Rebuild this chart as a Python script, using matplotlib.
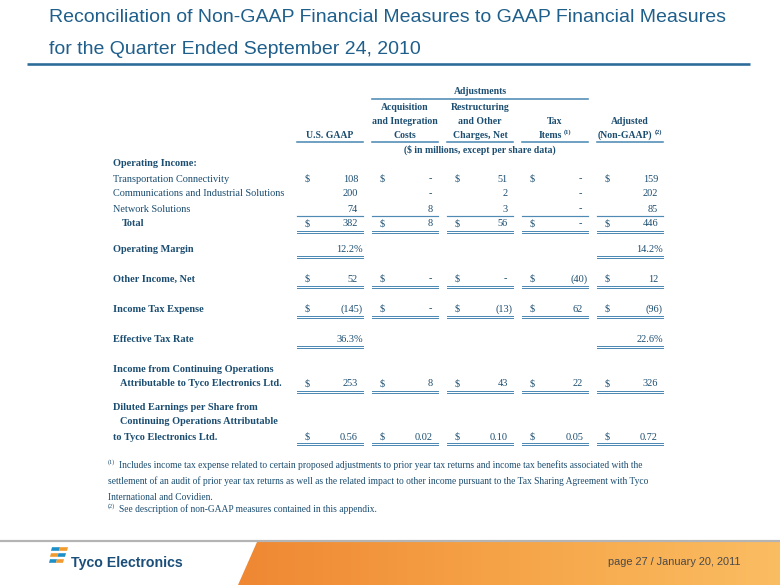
import matplotlib
matplotlib.use("Agg")
import matplotlib.pyplot as plt
from matplotlib.patches import Polygon
import numpy as np

# ---------------- data ----------------
title_lines = ["Reconciliation of Non-GAAP Financial Measures to GAAP Financial Measures",
               "for the Quarter Ended September 24, 2010"]
col_head_1 = ["", "Acquisition", "Restructuring", "", ""]
col_head_2 = ["", "and Integration", "and Other", "Tax", "Adjusted"]
col_head_3 = ["U.S. GAAP", "Costs", "Charges, Net", "Items", "(Non-GAAP)"]
col_head_sup = ["", "", "", "(1)", "(2)"]
units_note = "($ in millions, except per share data)"

segments = ["Transportation Connectivity", "Communications and Industrial Solutions", "Network Solutions"]
seg_us_gaap = [108, 200, 74]
seg_acq = [0, 0, 8]
seg_restr = [51, 2, 3]
seg_tax = [0, 0, 0]
seg_adjusted = [159, 202, 85]
total_op_income = [382, 8, 56, 0, 446]
operating_margin = [12.2, None, None, None, 14.2]
other_income = [52, 0, 0, -40, 12]
income_tax_expense = [-145, 0, -13, 62, -96]
effective_tax_rate = [36.3, None, None, None, 22.6]
income_cont_ops = [253, 8, 43, 22, 326]
diluted_eps = [0.56, 0.02, 0.10, 0.05, 0.72]

footnote1 = ["Includes income tax expense related to certain proposed adjustments to prior year tax returns and income tax benefits associated with the",
             "settlement of an audit of prior year tax returns as well as the related impact to other income pursuant to the Tax Sharing Agreement with Tyco",
             "International and Covidien."]
footnote2 = "See description of non-GAAP measures contained in this appendix."
page_text = "page 27 / January 20, 2011"
logo_text = "Tyco Electronics"

# ---------------- style ----------------
SANS = "Liberation Sans"
SERIF = "Liberation Serif"
TXT = "#1b4d70"
LINE = "#4f8ab5"
TITLE_C = "#1f5f8b"

fig = plt.figure(figsize=(7.8, 5.85), dpi=100)
ax = fig.add_axes([0, 0, 1, 1])
ax.set_xlim(0, 780)
ax.set_ylim(585, 0)
ax.axis("off")
PX = 0.72  # points per pixel

# title
ax.text(49, 17, title_lines[0], family=SANS, fontsize=14.0, color=TITLE_C, va="center", ha="left")
ax.text(49, 49, title_lines[1], family=SANS, fontsize=14.0, color=TITLE_C, va="center", ha="left")
ax.plot([27, 750], [64, 64], color="#2d6b99", lw=2.6 * PX, solid_capstyle="butt")

# columns
dollar_x = [305 + 75 * k for k in range(5)]
right_x = [358 + 75 * k for k in range(5)]
ul_l = [297 + 75 * k for k in range(5)]
ul_r = [363 + 75 * k for k in range(5)]
centers = [(a + b) / 2 for a, b in zip(ul_l, ul_r)]

BODY = 7.4
HEAD = 7.0

fig.canvas.draw()
renderer = fig.canvas.get_renderer()


def text_width_px(s, **kw):
    t = ax.text(0, 0, s, **kw)
    bb = t.get_window_extent(renderer=renderer)
    t.remove()
    return bb.width


# header
ax.text(480, 92, "Adjustments", family=SERIF, weight="bold", fontsize=HEAD, color=TXT, ha="center", va="center")
ax.plot([ul_l[1], ul_r[3]], [99, 99], color=LINE, lw=1.6 * PX)
for k in range(5):
    if col_head_1[k]:
        ax.text(centers[k], 107, col_head_1[k], family=SERIF, weight="bold", fontsize=HEAD, color=TXT, ha="center", va="center")
    if col_head_2[k]:
        ax.text(centers[k], 121, col_head_2[k], family=SERIF, weight="bold", fontsize=HEAD, color=TXT, ha="center", va="center")
    base = col_head_3[k]
    sup = col_head_sup[k]
    if sup:
        wb = text_width_px(base, family=SERIF, weight="bold", fontsize=HEAD)
        ws = text_width_px(sup, family=SERIF, weight="bold", fontsize=4.6)
        start = centers[k] - (wb + 2 + ws) / 2
        ax.text(start, 135, base, family=SERIF, weight="bold", fontsize=HEAD, color=TXT, ha="left", va="center")
        ax.text(start + wb + 2, 132, sup, family=SERIF, weight="bold", fontsize=4.6, color=TXT, ha="left", va="center")
    else:
        ax.text(centers[k], 135, base, family=SERIF, weight="bold", fontsize=HEAD, color=TXT, ha="center", va="center")
    ax.plot([ul_l[k], ul_r[k]], [142, 142], color=LINE, lw=1.6 * PX)
ax.text(480, 150, units_note, family=SERIF, weight="bold", fontsize=HEAD, color=TXT, ha="center", va="center")


def fmt(v, dec=0, pct=False):
    if v is None:
        return None
    if v == 0 and not pct:
        return "-"
    s = f"{abs(v):,.{dec}f}"
    if pct:
        s += "%"
    if v < 0:
        s = "(" + s + ")"
    return s


def put_values(y, vals, dec=0, pct=False, dollar=True):
    for k, v in enumerate(vals):
        s = fmt(v, dec, pct)
        if s is None:
            continue
        if dollar:
            ax.text(dollar_x[k], y, "$", family=SERIF, fontsize=BODY, color=TXT, ha="left", va="center")
        x = right_x[k]
        if s.endswith(")") or s.endswith("%"):
            x += 5
        elif s == "-":
            x -= 1
        ax.text(x, y, s, family=SERIF, fontsize=BODY, color=TXT, ha="right", va="center")


def underline(y, cols, double=True):
    for k in cols:
        if double:
            ax.plot([ul_l[k], ul_r[k]], [y, y], color=LINE, lw=1.0 * PX)
            ax.plot([ul_l[k], ul_r[k]], [y + 2.2, y + 2.2], color=LINE, lw=1.0 * PX)
        else:
            ax.plot([ul_l[k], ul_r[k]], [y, y], color=LINE, lw=1.2 * PX)


def label(y, s, x=113, bold=True):
    ax.text(x, y, s, family=SERIF, weight="bold" if bold else "normal", fontsize=BODY, color=TXT, ha="left", va="center")


ALL = range(5)
label(164, "Operating Income:")
seg_y = [179, 194, 209]
for i, name in enumerate(segments):
    label(seg_y[i], name, bold=False)
    put_values(seg_y[i], [seg_us_gaap[i], seg_acq[i], seg_restr[i], seg_tax[i], seg_adjusted[i]], dollar=(i == 0))
underline(216, ALL, double=False)
label(224, "Total", x=122)
put_values(224, total_op_income)
underline(230.5, ALL)

label(249, "Operating Margin")
put_values(249, operating_margin, dec=1, pct=True, dollar=False)
underline(255.5, [0, 4])

label(279, "Other Income, Net")
put_values(279, other_income)
underline(285.5, ALL)

label(309, "Income Tax Expense")
put_values(309, income_tax_expense)
underline(315.5, ALL)

label(339, "Effective Tax Rate")
put_values(339, effective_tax_rate, dec=1, pct=True, dollar=False)
underline(345.5, [0, 4])

label(369, "Income from Continuing Operations")
label(384, "Attributable to Tyco Electronics Ltd.", x=120)
put_values(384, income_cont_ops)
underline(390.5, ALL)

label(407, "Diluted Earnings per Share from")
label(422, "Continuing Operations Attributable", x=120)
label(437, "to Tyco Electronics Ltd.")
put_values(437, diluted_eps, dec=2)
underline(443, ALL)

# footnotes
FN = 6.85
ax.text(108, 462, "(1)", family=SERIF, fontsize=4.6, color=TXT, ha="left", va="center")
fy = [465, 481, 497]
for i, line in enumerate(footnote1):
    ax.text(108 if i else 119, fy[i], line, family=SERIF, fontsize=FN, color=TXT, ha="left", va="center")
ax.text(108, 506, "(2)", family=SERIF, fontsize=4.6, color=TXT, ha="left", va="center")
ax.text(119, 509, footnote2, family=SERIF, fontsize=FN, color=TXT, ha="left", va="center")

# footer
ax.plot([0, 780], [541, 541], color="#b4b4b4", lw=2.2 * PX, zorder=3)
poly = Polygon([[257, 542], [780, 542], [780, 585], [238, 585]], closed=True, facecolor="none", edgecolor="none")
ax.add_patch(poly)
grad = np.linspace(0, 1, 256).reshape(1, -1)
cmap = matplotlib.colors.LinearSegmentedColormap.from_list("g", ["#ef8733", "#f6a448", "#fbbd62"])
im = ax.imshow(grad, extent=[238, 780, 585, 542], cmap=cmap, aspect="auto", zorder=1)
im.set_clip_path(poly)
ax.set_xlim(0, 780)
ax.set_ylim(585, 0)
ax.text(741, 562, page_text, family=SANS, fontsize=7.9,
        color="#4a4a4a", ha="right", va="center", zorder=4)

# logo
BLUE = "#1d8fc8"
ORNG = "#f29a2e"
stripes = [(549, 51, 67), (555, 50, 65), (561, 49, 63)]
for j, (yy, x0, x1) in enumerate(stripes):
    mid = (x0 + x1) / 2
    cl1, cl2 = (BLUE, ORNG) if j != 1 else (ORNG, BLUE)
    ax.add_patch(Polygon([[x0 + 1, yy - 1.8], [mid + 1, yy - 1.8], [mid, yy + 1.8], [x0, yy + 1.8]], facecolor=cl1, edgecolor="none"))
    ax.add_patch(Polygon([[mid + 1, yy - 1.8], [x1 + 1, yy - 1.8], [x1, yy + 1.8], [mid, yy + 1.8]], facecolor=cl2, edgecolor="none"))
ax.text(71, 563, logo_text, family=SANS, weight="bold", fontsize=10.2, color="#1b4f7a", ha="left", va="center")

fig.savefig("out.png", dpi=100)
